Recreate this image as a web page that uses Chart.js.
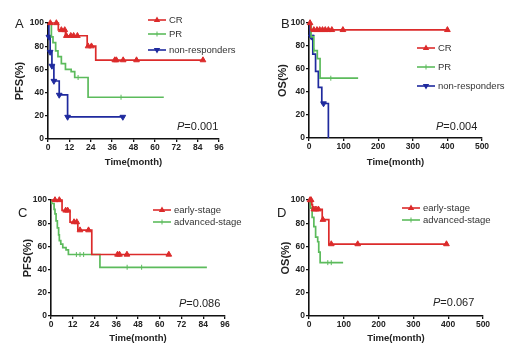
<!DOCTYPE html>
<html>
<head>
<meta charset="utf-8">
<script src="https://cdn.jsdelivr.net/npm/chart.js@4.4.0/dist/chart.umd.min.js"></script>
<style>
  body { margin: 0; width: 520px; height: 358px; background: #fff; position: relative; overflow: hidden; font-family: "Liberation Sans", Arial, sans-serif; }
  canvas { position: absolute; }
  .lbl { position: absolute; color: #222; line-height: 1; white-space: nowrap; }
  .letter { font-size: 13px; }
  .pval { font-size: 11px; }
  .leg { position: absolute; font-size: 9.5px; color: #333; line-height: 12px; white-space: nowrap; }
  .leg svg { vertical-align: top; margin-right: 3px; }
</style>
</head>
<body>
<canvas id="chartA" width="260" height="180" style="left:0;top:0"></canvas>
<canvas id="chartB" width="260" height="180" style="left:260px;top:0"></canvas>
<canvas id="chartC" width="260" height="180" style="left:0;top:178px"></canvas>
<canvas id="chartD" width="260" height="180" style="left:260px;top:178px"></canvas>

<div class="lbl letter" style="left:15px;top:17px">A</div>
<div class="lbl letter" style="left:281px;top:17px">B</div>
<div class="lbl letter" style="left:18px;top:206px">C</div>
<div class="lbl letter" style="left:277px;top:206px">D</div>

<div class="lbl pval" style="left:177px;top:121px"><i>P</i>=0.001</div>
<div class="lbl pval" style="left:436px;top:121px"><i>P</i>=0.004</div>
<div class="lbl pval" style="left:179px;top:298px"><i>P</i>=0.086</div>
<div class="lbl pval" style="left:433px;top:297px"><i>P</i>=0.067</div>

<script>
const RED = '#dc2b2b';
const GREEN = '#5cbb5c';
const BLUE = '#1f2a9e';
const FONT = 'Liberation Sans';

// ---- Panel A: PFS by response (months) ----
const crTimeA = [0, 1.3, 4.7, 5.8, 7.5, 9.4, 9.8, 10.3, 12.8, 14.4, 16.5, 22, 22.5, 24.4, 26.8, 37.5, 38.4, 42.2, 49.7, 87];
const crSurvA = [100, 100, 100, 94, 94, 94, 89, 89, 89, 89, 89, 80, 80, 80, 68, 68, 68, 68, 68, 68];
const crMarkA = [0, 1, 1, 0, 1, 1, 0, 1, 1, 1, 1, 0, 1, 1, 0, 1, 1, 1, 1, 1];

const prTimeA = [0, 1.9, 2.8, 4.3, 5.6, 7.5, 9.8, 13, 15, 16.9, 22.5, 41, 65];
const prSurvA = [100, 88, 83, 76, 71, 65, 60, 58, 53, 53, 36, 36, 36];
const prMarkA = [0, 0, 0, 0, 0, 0, 0, 0, 0, 1, 0, 1, 0];

const nrTimeA = [0, 0.5, 1.2, 2.2, 3.3, 6.3, 11, 42];
const nrSurvA = [100, 88, 75, 63, 50, 38, 19, 19];
const nrMarkA = [0, 1, 1, 1, 1, 1, 1, 1];

// ---- Panel B: OS by response ----
const crTimeB = [0, 3, 5, 14, 23, 31, 39, 47, 56, 66, 98, 400];
const crSurvB = [100, 100, 94, 94, 94, 94, 94, 94, 94, 94, 94, 94];
const crMarkB = [0, 1, 0, 1, 1, 1, 1, 1, 1, 1, 1, 1];

const prTimeB = [0, 6, 14, 24, 32, 63, 142];
const prSurvB = [100, 88, 76, 69, 52, 52, 52];
const prMarkB = [0, 0, 1, 0, 0, 1, 0];

const nrTimeB = [0, 3, 7, 11, 19, 27, 37, 42, 56];
const nrSurvB = [100, 88, 88, 73, 58, 44, 30, 30, 0];
const nrMarkB = [0, 0, 1, 0, 0, 0, 0, 1, 0];

// ---- Panel C: PFS by stage ----
const earlyTimeC = [0, 2.2, 4.6, 6.1, 8.1, 9.2, 10.5, 12.7, 14.2, 14.8, 16, 20.7, 22.5, 36.7, 37.8, 41.9, 65];
const earlySurvC = [100, 100, 100, 91, 91, 91, 81, 81, 81, 74, 74, 74, 53, 53, 53, 53, 53];
const earlyMarkC = [0, 1, 1, 0, 1, 1, 0, 1, 1, 0, 1, 1, 0, 1, 1, 1, 1];

const advTimeC = [0, 0.4, 1.7, 2.2, 2.8, 3.5, 4.2, 4.6, 5.4, 6.5, 8.3, 9.6, 14, 16, 18, 27, 42, 50, 86];
const advSurvC = [100, 97, 92, 88, 82, 76, 70, 65, 62, 59, 57, 53, 53, 53, 53, 42, 42, 42, 42];
const advMarkC = [0, 0, 0, 0, 0, 0, 0, 0, 0, 0, 0, 0, 1, 1, 1, 0, 1, 1, 0];

// ---- Panel D: OS by stage ----
const earlyTimeD = [0, 3, 6, 8, 10, 14, 20, 27, 38, 40, 57, 64, 140, 395];
const earlySurvD = [100, 100, 100, 96, 92, 92, 92, 92, 83, 83, 62, 62, 62, 62];
const earlyMarkD = [0, 1, 1, 0, 0, 1, 1, 1, 0, 1, 0, 1, 1, 1];

const advTimeD = [0, 4, 9, 14, 19, 25, 28, 32, 54, 64, 98];
const advSurvD = [100, 93, 85, 77, 68, 64, 55, 46, 46, 46, 46];
const advMarkD = [0, 0, 0, 0, 0, 0, 0, 0, 1, 1, 0];

const yTicks = [0, 20, 40, 60, 80, 100];

const UP = { shape: 'triangle', rot: 0, r: 3.3 };
const DOWN = { shape: 'triangle', rot: 180, r: 3.3 };
const TICK = { shape: 'line', rot: 90, r: 2.5 };

function series(label, times, surv, marks, color, mk) {
  return {
    label: label,
    data: times.map((t, i) => ({ x: t, y: surv[i] })),
    borderColor: color,
    backgroundColor: color,
    borderWidth: 1.7,
    stepped: true,
    fill: false,
    clip: false,
    pointStyle: mk.shape,
    pointRotation: mk.rot,
    pointRadius: ctx => marks[ctx.dataIndex] ? mk.r : 0,
    pointBackgroundColor: color,
    pointBorderColor: color,
    pointBorderWidth: 1,
    pointHoverRadius: 0
  };
}

// builds one KM panel; area = fixed axis box sizes so the plot sits where the figure has it
function makePanel(id, datasets, xMax, xStep, yTitle, area) {
  const tickFont = { family: FONT, size: 8.5, weight: 'bold' };
  const gridOpts = { display: true, drawOnChartArea: false, drawTicks: true, tickLength: 3, color: '#111', lineWidth: 1.3 };
  const borderOpts = { display: true, color: '#111', width: 1.6 };
  return new Chart(document.getElementById(id), {
    type: 'line',
    data: { datasets: datasets },
    options: {
      responsive: false,
      animation: false,
      layout: { padding: { left: 0, top: area.top, right: area.right, bottom: 0 } },
      plugins: { legend: { display: false }, tooltip: { enabled: false } },
      scales: {
        x: {
          type: 'linear', min: 0, max: xMax,
          afterFit: s => { s.height = area.xh; },
          ticks: { stepSize: xStep, color: '#222', font: tickFont, padding: 1, maxRotation: 0, autoSkip: false },
          grid: gridOpts,
          border: borderOpts,
          title: { display: true, text: 'Time(month)', color: '#222', font: { family: FONT, size: 9.5, weight: 'bold' }, padding: { top: 0, bottom: area.xtp } }
        },
        y: {
          min: 0, max: 100,
          afterFit: s => { s.width = area.yw; },
          afterBuildTicks: s => { s.ticks = yTicks.map(v => ({ value: v })); },
          ticks: { color: '#222', font: tickFont, padding: 1 },
          grid: gridOpts,
          border: borderOpts,
          title: { display: true, text: yTitle, color: '#222', font: { family: FONT, size: 11, weight: 'bold' }, padding: { top: area.ytp, bottom: 0 } }
        }
      }
    }
  });
}

makePanel('chartA', [
  series('CR', crTimeA, crSurvA, crMarkA, RED, UP),
  series('PR', prTimeA, prSurvA, prMarkA, GREEN, TICK),
  series('non-responders', nrTimeA, nrSurvA, nrMarkA, BLUE, DOWN)
], 96, 12, 'PFS(%)', { top: 23, right: 41, xh: 41, yw: 48, xtp: 12, ytp: 13 });

makePanel('chartB', [
  series('CR', crTimeB, crSurvB, crMarkB, RED, UP),
  series('PR', prTimeB, prSurvB, prMarkB, GREEN, TICK),
  series('non-responders', nrTimeB, nrSurvB, nrMarkB, BLUE, DOWN)
], 500, 100, 'OS(%)', { top: 23, right: 38, xh: 42, yw: 49, xtp: 12, ytp: 16 });

makePanel('chartC', [
  series('early-stage', earlyTimeC, earlySurvC, earlyMarkC, RED, UP),
  series('advanced-stage', advTimeC, advSurvC, advMarkC, GREEN, TICK)
], 96, 12, 'PFS(%)', { top: 22, right: 35, xh: 42, yw: 51, xtp: 14, ytp: 21 });

makePanel('chartD', [
  series('early-stage', earlyTimeD, earlySurvD, earlyMarkD, RED, UP),
  series('advanced-stage', advTimeD, advSurvD, advMarkD, GREEN, TICK)
], 500, 100, 'OS(%)', { top: 22, right: 37, xh: 42, yw: 49, xtp: 14, ytp: 19 });

// legends: short line sample with the marker, then the label
function legendIcon(color, mk) {
  let m = '';
  if (mk === UP) m = '<polygon points="9,2.5 12.2,8 5.8,8" fill="' + color + '"/>';
  else if (mk === DOWN) m = '<polygon points="9,9.5 12.2,4 5.8,4" fill="' + color + '"/>';
  else m = '<line x1="9" y1="3.5" x2="9" y2="8.5" stroke="' + color + '" stroke-width="1"/>';
  return '<svg width="18" height="12"><line x1="0" y1="6" x2="18" y2="6" stroke="' + color + '" stroke-width="1.6"/>' + m + '</svg>';
}

function addLegend(x, items) {
  items.forEach(it => {
    const d = document.createElement('div');
    d.className = 'leg';
    d.style.left = x + 'px';
    d.style.top = (it.y - 6) + 'px';
    d.innerHTML = legendIcon(it.color, it.mk) + '<span>' + it.text + '</span>';
    document.body.appendChild(d);
  });
}

addLegend(148, [
  { text: 'CR', color: RED, mk: UP, y: 20 },
  { text: 'PR', color: GREEN, mk: TICK, y: 34 },
  { text: 'non-responders', color: BLUE, mk: DOWN, y: 50 }
]);
addLegend(417, [
  { text: 'CR', color: RED, mk: UP, y: 48 },
  { text: 'PR', color: GREEN, mk: TICK, y: 67 },
  { text: 'non-responders', color: BLUE, mk: DOWN, y: 86 }
]);
addLegend(153, [
  { text: 'early-stage', color: RED, mk: UP, y: 210 },
  { text: 'advanced-stage', color: GREEN, mk: TICK, y: 222 }
]);
addLegend(402, [
  { text: 'early-stage', color: RED, mk: UP, y: 208 },
  { text: 'advanced-stage', color: GREEN, mk: TICK, y: 220 }
]);
</script>
</body>
</html>
